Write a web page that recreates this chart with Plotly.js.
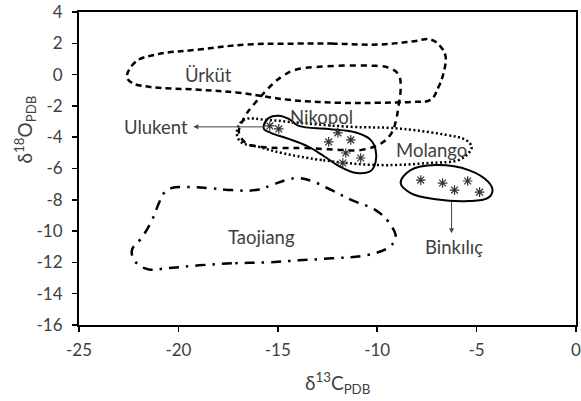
<!DOCTYPE html>
<html>
<head>
<meta charset="utf-8">
<script src="https://cdn.plot.ly/plotly-3.0.1.min.js"></script>
<style>html,body{margin:0;padding:0;background:#fff;}#chart{width:581px;height:401px;}</style>
</head>
<body>
<div id="chart"></div>
<script>
// Ürküt field (dashed)
const urkutX = [-13.94,-12.29,-9.92,-8.27,-7.31,-6.81,-6.56,-6.66,-6.91,-7.31,-8.27,-9.92,-11.93,-14.45,-16.96,-18.97,-21.48,-22.34,-22.59,-22.14,-21.13,-18.97,-16.61];
const urkutY = [1.98,1.98,1.92,2.11,2.24,1.79,1.15,0.12,-0.78,-1.61,-1.74,-1.80,-1.80,-1.61,-1.16,-0.97,-0.78,-0.52,-0.13,0.83,1.28,1.60,1.92];
// Nikopol field (dashed)
const nikDashX = [-12.79,-10.28,-9.42,-8.92,-8.82,-8.92,-9.07,-9.27,-9.77,-10.78,-11.93,-13.59,-14.95,-15.80,-16.61,-16.96,-16.81,-16.61,-16.31,-15.30,-14.80,-14.10];
const nikDashY = [0.51,0.57,0.44,-0.01,-0.84,-1.93,-3.02,-3.72,-4.37,-4.81,-4.81,-4.69,-4.69,-4.62,-4.37,-3.66,-3.08,-2.57,-2.06,-0.65,-0.13,0.31];
// Molango field (dotted)
const molangoX = [-9.92,-12.79,-14.80,-15.95,-16.86,-17.06,-16.71,-15.60,-13.94,-11.28,-9.42,-8.27,-6.56,-5.55,-5.25,-5.40,-5.90,-7.41];
const molangoY = [-5.78,-5.46,-5.01,-4.62,-4.30,-3.66,-2.89,-2.89,-3.08,-3.34,-3.40,-3.53,-3.85,-4.17,-4.62,-5.01,-5.46,-5.65];
// Ulukent samples envelope (solid)
const ulukentX = [-12.44,-11.03,-10.33,-10.08,-10.08,-10.33,-11.03,-11.93,-12.69,-13.54,-14.45,-15.35,-15.70,-15.70,-15.45,-14.95,-14.45,-13.94];
const ulukentY = [-3.47,-3.72,-4.17,-4.81,-5.58,-6.16,-6.29,-5.84,-5.20,-4.56,-4.11,-3.72,-3.47,-3.21,-2.76,-2.63,-2.83,-3.28];
// Binkılıç samples envelope (solid)
const binkilicX = [-7.06,-5.40,-4.40,-4.20,-4.45,-5.40,-7.06,-8.32,-8.82,-8.32];
const binkilicY = [-5.78,-6.10,-6.87,-7.44,-7.89,-8.08,-7.96,-7.57,-6.93,-6.10];
// Taojiang field (dash-dot)
const taojiangX = [-15.60,-17.31,-18.97,-20.63,-21.48,-22.14,-22.34,-21.83,-21.33,-20.98,-20.73,-20.33,-19.62,-18.47,-17.31,-16.11,-15.30,-14.60,-13.94,-13.29,-12.29,-11.28,-10.08,-9.42,-9.07,-9.42,-10.58,-12.29,-13.94];
const taojiangY = [-12.00,-12.06,-12.19,-12.38,-12.45,-12.00,-11.23,-10.40,-9.30,-8.21,-7.57,-7.25,-7.19,-7.25,-7.38,-7.38,-7.06,-6.74,-6.61,-6.80,-7.38,-8.02,-8.66,-9.43,-10.40,-11.04,-11.55,-11.74,-11.87];
// samples (asterisks)
const ulukentPtsX = [-15.40,-14.95,-12.44,-11.98,-11.33,-11.58,-10.83,-11.73];
const ulukentPtsY = [-3.28,-3.47,-4.30,-3.72,-4.17,-5.01,-5.33,-5.65];
const binkilicPtsX = [-7.81,-6.71,-6.11,-5.45,-4.85];
const binkilicPtsY = [-6.74,-6.93,-7.38,-6.80,-7.51];
// labels
const labelText = ["Ürküt","Nikopol","Molango","Taojiang"];
const labelX = [-18.47,-12.79,-7.26,-15.80];
const labelY = [0.0,-2.72,-4.81,-10.39];
const xTicks = [-25,-20,-15,-10,-5,0];
const yTicks = [4,2,0,-2,-4,-6,-8,-10,-12,-14,-16];

const close = a => a.concat([a[0]]);
const TXT = '#404040';
const FONT = 'Lato, "Open Sans", sans-serif';

function ring(x, y, dash, w) {
  return {x: close(x), y: close(y), type: 'scatter', mode: 'lines',
    line: {color: '#000', width: w, dash: dash, shape: 'spline', smoothing: 1.1},
    hoverinfo: 'skip', showlegend: false};
}

const traces = [
  ring(urkutX, urkutY, '6px,4px', 2.5),
  ring(nikDashX, nikDashY, '6px,5px', 2.5),
  ring(molangoX, molangoY, '2px,2.5px', 2.5),
  ring(taojiangX, taojiangY, '10px,7px,2.5px,7px', 2.5),
  ring(ulukentX, ulukentY, 'solid', 2),
  ring(binkilicX, binkilicY, 'solid', 2),
  {x: ulukentPtsX.concat(binkilicPtsX), y: ulukentPtsY.concat(binkilicPtsY), type: 'scatter', mode: 'markers',
   marker: {symbol: 'asterisk-open', size: 8, color: '#333', line: {color: '#333', width: 1.2}}, showlegend: false, hoverinfo: 'skip'}
];

const annotations = labelText.map((t, i) => ({x: labelX[i], y: labelY[i], xref: 'x', yref: 'y', text: t,
  showarrow: false, font: {family: FONT, size: 18.5, color: TXT}}));

// arrows
annotations.push({x: -19.25, y: -3.34, ax: -15.6, ay: -3.34, axref: 'x', ayref: 'y', xref: 'x', yref: 'y',
  text: '', showarrow: true, arrowhead: 2, arrowsize: 1, arrowwidth: 1, arrowcolor: '#444'});
annotations.push({x: -19.4, y: -3.34, xref: 'x', yref: 'y', xanchor: 'right', text: 'Ulukent', showarrow: false,
  font: {family: FONT, size: 18.5, color: TXT}});
annotations.push({x: -6.26, y: -10.13, ax: -6.26, ay: -8.05, axref: 'x', ayref: 'y', xref: 'x', yref: 'y',
  text: '', showarrow: true, arrowhead: 2, arrowsize: 1, arrowwidth: 1, arrowcolor: '#444'});
annotations.push({x: -6.16, y: -11.03, xref: 'x', yref: 'y', text: 'Binkılıç', showarrow: false,
  font: {family: FONT, size: 18.5, color: TXT}});

// axis titles
annotations.push({x: 0.521, y: 0, xref: 'paper', yref: 'paper', yanchor: 'middle', yshift: -58,
  text: 'δ<sup>13</sup>C<sub>PDB</sub>', showarrow: false, font: {family: FONT, size: 19, color: TXT}});
annotations.push({x: 0, y: 0.625, xref: 'paper', yref: 'paper', xanchor: 'center', xshift: -54, textangle: -90,
  text: 'δ<sup>18</sup>O<sub>PDB</sub>', showarrow: false, font: {family: FONT, size: 19, color: TXT}});

const axisCommon = {showline: true, mirror: true, linecolor: '#000', linewidth: 2, ticks: 'outside', ticklen: 5,
  tickwidth: 1.5, tickcolor: '#000', showgrid: false, zeroline: false, ticklabeloverflow: 'allow',
  tickfont: {family: FONT, size: 17, color: TXT}};

const layout = {
  width: 581, height: 401,
  margin: {l: 79, r: 5, t: 12, b: 76},
  paper_bgcolor: '#fff', plot_bgcolor: '#fff',
  xaxis: Object.assign({}, axisCommon, {range: [-25, 0], tickvals: xTicks, ticktext: xTicks.map(String), ticklabelstandoff: 4}),
  yaxis: Object.assign({}, axisCommon, {range: [-16, 4], tickvals: yTicks, ticktext: yTicks.map(String), ticklabelstandoff: 6}),
  annotations: annotations,
  showlegend: false
};

Plotly.newPlot('chart', traces, layout, {displayModeBar: false, staticPlot: true});
</script>
</body>
</html>
